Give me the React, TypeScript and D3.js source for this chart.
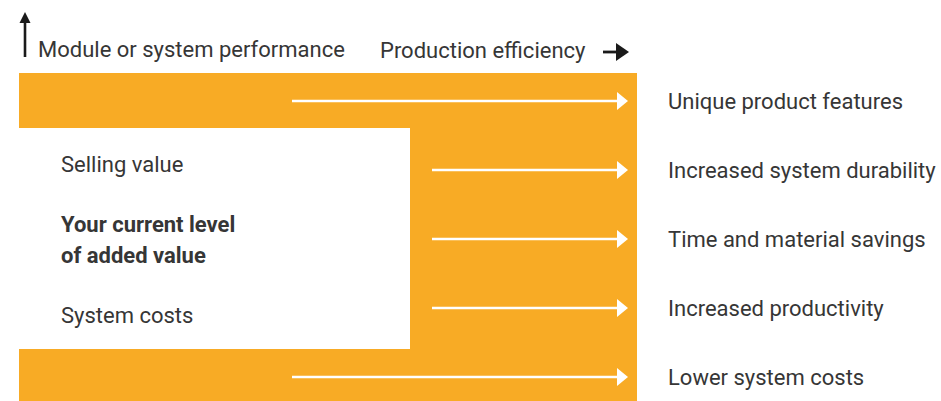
import React from 'react';
import * as d3 from 'd3';

// axis captions
const yCaption = 'Module or system performance';
const xCaption = 'Production efficiency';

// left side (inside the white cut-out)
const valueLabels = ['Selling value', 'Your current level\nof added value', 'System costs'];
const valueBold = [false, true, false];

// right side benefits, and whether the arrow starts in the outer band
const benefits = [
    'Unique product features',
    'Increased system durability',
    'Time and material savings',
    'Increased productivity',
    'Lower system costs',
];
const fromOuterBand = [true, false, false, false, true];

const W = 941;
const H = 401;
const ORANGE = '#F8AB25';
const INK = '#363636';
const FONT = 'Roboto, "DejaVu Sans", sans-serif';

const App = () => {
    // panel geometry
    const panel = { x0: 19, x1: 637, top: 73, bottom: 401 };
    const cut = { x1: 410, top: 128, bottom: 349 };

    const y = d3.scalePoint<string>().domain(benefits).range([101, 377]);
    const yLeft = d3.scalePoint<string>().domain(valueLabels).range([165, 316]);

    const arrowEnd = 628;
    const arrowStart = (outer: boolean) => (outer ? 292 : 432);

    const panelPath = d3.path();
    panelPath.moveTo(panel.x0, panel.top);
    panelPath.lineTo(panel.x1, panel.top);
    panelPath.lineTo(panel.x1, panel.bottom);
    panelPath.lineTo(panel.x0, panel.bottom);
    panelPath.lineTo(panel.x0, cut.bottom);
    panelPath.lineTo(cut.x1, cut.bottom);
    panelPath.lineTo(cut.x1, cut.top);
    panelPath.lineTo(panel.x0, cut.top);
    panelPath.closePath();

    const fs = 22;

    return (
        <svg width={W} height={H} style={{ position: 'absolute', left: 0, top: 0 }}
            fontFamily={FONT}>
            <rect width={W} height={H} fill="#fff" />

            {/* up arrow + y caption */}
            <line x1={25} x2={25} y1={57} y2={20} stroke="#1a1a1a" strokeWidth={2.6} />
            <path d="M19.5,23 L25,12 L30.5,23 Z" fill="#1a1a1a" />
            <text x={38} y={57} fontSize={fs} fill={INK}>{yCaption}</text>

            {/* x caption + right arrow */}
            <text x={380} y={58} fontSize={fs} fill={INK}>{xCaption}</text>
            <line x1={603} x2={618} y1={52} y2={52} stroke="#1a1a1a" strokeWidth={2.8} />
            <path d="M616,43 L629,52 L616,61 Z" fill="#1a1a1a" />

            <path d={panelPath.toString()} fill={ORANGE} />

            {valueLabels.map((lab, i) => {
                const lines = lab.split('\n');
                const cy = yLeft(lab)!;
                const lh = 31;
                const first = cy + 7 - ((lines.length - 1) * lh) / 2;
                return (
                    <text key={lab} x={61} fontSize={fs} fill={INK}
                        fontWeight={valueBold[i] ? 700 : 400}>
                        {lines.map((l, j) => (
                            <tspan key={j} x={61} y={first + j * lh}>{l}</tspan>
                        ))}
                    </text>
                );
            })}

            {benefits.map((b, i) => {
                const yy = y(b)!;
                const x0 = arrowStart(fromOuterBand[i]);
                return (
                    <g key={b}>
                        <line x1={x0} x2={arrowEnd - 10} y1={yy} y2={yy} stroke="#fff" strokeWidth={2.5} />
                        <path d={`M${arrowEnd - 11},${yy - 9} L${arrowEnd},${yy} L${arrowEnd - 11},${yy + 9} Z`} fill="#fff" />
                        <text x={668} y={yy + 8} fontSize={fs} fill={INK}>{b}</text>
                    </g>
                );
            })}
        </svg>
    );
};

export default App;
